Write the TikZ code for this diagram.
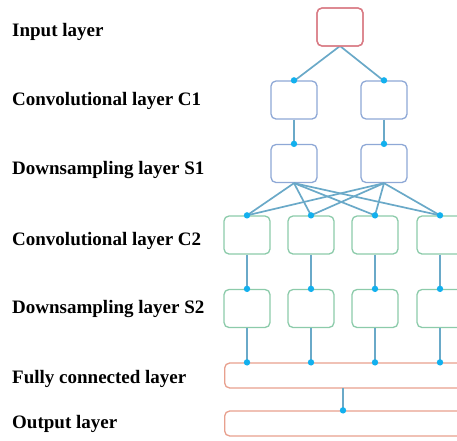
\documentclass[tikz,border=0pt]{standalone}
\usepackage{fontspec}
\setmainfont{Liberation Serif}
\definecolor{inred}{HTML}{D97A84}
\definecolor{cblue}{HTML}{8EA8D6}
\definecolor{cgreen}{HTML}{8CCBAA}
\definecolor{fcred}{HTML}{E8A08E}
\definecolor{wire}{HTML}{6AA9C8}
\definecolor{dotc}{HTML}{12B0EE}
\tikzset{
  box/.style={draw, rounded corners=5pt, line width=1.3pt, minimum width=46pt, minimum height=38pt, inner sep=0pt, fill=white},
  wbox/.style={draw=fcred, rounded corners=5pt, line width=1.3pt, minimum height=25pt, minimum width=250pt, inner sep=0pt, anchor=west, fill=white},
  lab/.style={anchor=west, font=\fontsize{19}{22}\selectfont\bfseries, inner sep=0pt},
  wireline/.style={draw=wire, line width=1.7pt},
  jdot/.style={fill=dotc, draw=none},
}
\begin{document}
\begin{tikzpicture}[x=1pt,y=-1pt]
\useasboundingbox (0,0) rectangle (457,440);
% labels
\node[lab] (l1) at (12,32) {Input layer};
\node[lab] (l2) at (12,101) {Convolutional layer C1};
\node[lab] (l3) at (12,170) {Downsampling layer S1};
\node[lab] (l4) at (12,241) {Convolutional layer C2};
\node[lab] (l5) at (12,309) {Downsampling layer S2};
\node[lab] (l6) at (12,379) {Fully connected layer};
\node[lab] (l7) at (12,424) {Output layer};
% wires first
\coordinate (inb) at (340,46);
\coordinate (c1a) at (294,81);
\coordinate (c1b) at (384,81);
\draw[wireline] (inb) -- (c1a);
\draw[wireline] (inb) -- (c1b);
% boxes
\node[box, draw=inred] (in) at (340,27) {};
\node[box, draw=cblue] (ca) at (294,100) {};
\node[box, draw=cblue] (cb) at (384,100) {};
\node[box, draw=cblue] (sa) at (294,163.5) {};
\node[box, draw=cblue] (sb) at (384,163.5) {};
\foreach \i/\x in {1/247,2/311,3/375,4/440}{
  \node[box, draw=cgreen] (c2\i) at (\x,235) {};
  \node[box, draw=cgreen] (s2\i) at (\x,308.5) {};
}
\node[wbox] (fc) at (224,375.5) {};
\node[wbox] (out) at (224,423.5) {};
\coordinate (fo) at (343,388);
% connectors
\draw[wireline] (ca.south) -- (sa.north);
\draw[wireline] (cb.south) -- (sb.north);
\foreach \i in {1,2,3,4}{
  \draw[wireline] (sa.south) -- (c2\i.north);
  \draw[wireline] (sb.south) -- (c2\i.north);
  \draw[wireline] (c2\i.south) -- (s2\i.north);
  \draw[wireline] (s2\i.south) -- (s2\i.south |- fc.north);
}
\draw[wireline] (fo) -- (fo |- out.north);
% redraw box edges over wire ends
\node[box, draw=inred, fill=none] at (in) {};
% dots
\fill[jdot] (ca.north) circle (3.2pt);
\fill[jdot] (cb.north) circle (3.2pt);
\fill[jdot] (sa.north) circle (3.2pt);
\fill[jdot] (sb.north) circle (3.2pt);
\foreach \i in {1,2,3,4}{
  \fill[jdot] (c2\i.north) circle (3.2pt);
  \fill[jdot] (s2\i.north) circle (3.2pt);
  \fill[jdot] (s2\i.south |- fc.north) circle (3.2pt);
}
\fill[jdot] (fo |- out.north) circle (3.2pt);
\end{tikzpicture}
\end{document}
